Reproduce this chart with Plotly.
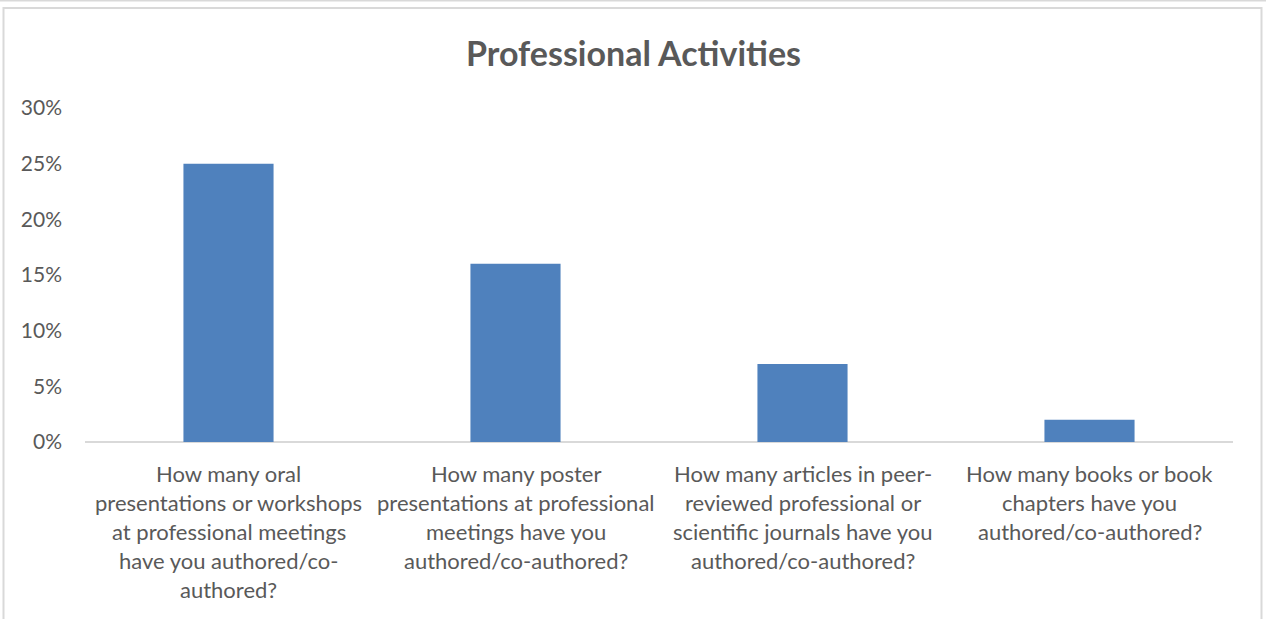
import plotly.graph_objects as go

# Survey categories (label lines) and share of respondents
categories = [
    "How many oral<br>presentations or workshops<br>at professional meetings<br>have you authored/co-<br>authored?",
    "How many poster<br>presentations at professional<br>meetings have you<br>authored/co-authored?",
    "How many articles in peer-<br>reviewed professional or<br>scientific journals have you<br>authored/co-authored?",
    "How many books or book<br>chapters have you<br>authored/co-authored?",
]
shares = [0.25, 0.16, 0.07, 0.02]
y_ticks = [0, 0.05, 0.10, 0.15, 0.20, 0.25, 0.30]
y_tick_labels = ["0%", "5%", "10%", "15%", "20%", "25%", "30%"]
title_text = "Professional Activities"

W, H = 1266, 619
L, R, T, B = 85, 33, 108, 177
pw, ph = W - L - R, H - T - B

FONT = "Lato, Calibri, Carlito, sans-serif"
TEXT = "#595959"
BORDER = "#D9D9D9"

x_keys = list(range(len(categories)))

fig = go.Figure(
    go.Bar(
        x=x_keys,
        y=shares,
        marker=dict(color="#4F81BD", line=dict(width=0)),
        width=0.314,
        hoverinfo="skip",
    )
)

# Category labels as individual lines for wider line spacing
annotations = []
line_gap = 29
for xi, label in zip(x_keys, categories):
    for k, line in enumerate(label.split("<br>")):
        annotations.append(
            dict(
                x=xi, y=0, xref="x", yref="y",
                text=line, showarrow=False,
                xanchor="center", yanchor="middle",
                yshift=-31 - k * line_gap,
                font=dict(family=FONT, size=22, color=TEXT),
            )
        )

annotations.append(
    dict(
        x=(W / 2 - L) / pw, y=(H - 53 - B) / ph, xref="paper", yref="paper",
        text="<b>" + title_text + "</b>", showarrow=False,
        xanchor="center", yanchor="middle",
        font=dict(family=FONT, size=34, color=TEXT),
    )
)


def px_x(v):
    return (v - L) / pw


def px_y(v):
    return (H - B - v) / ph


shapes = [
    # outer chart frame
    dict(type="rect", xref="paper", yref="paper",
         x0=px_x(3.5), x1=px_x(1261.5), y0=px_y(H + 10), y1=px_y(8),
         line=dict(color=BORDER, width=2), fillcolor="rgba(0,0,0,0)", layer="below"),
    # thin band along the top edge
    dict(type="line", xref="paper", yref="paper",
         x0=px_x(0), x1=px_x(W), y0=px_y(0.5), y1=px_y(0.5),
         line=dict(color=BORDER, width=2)),
]

fig.update_layout(
    width=W, height=H,
    margin=dict(l=L, r=R, t=T, b=B, autoexpand=False),
    paper_bgcolor="white", plot_bgcolor="white",
    showlegend=False,
    bargap=0.686,
    annotations=annotations,
    shapes=shapes,
    xaxis=dict(
        range=[-0.5, len(categories) - 0.5],
        showticklabels=False, ticks="",
        showgrid=False, zeroline=False,
        showline=False, fixedrange=True,
    ),
    yaxis=dict(
        range=[0, 0.30],
        tickvals=y_ticks, ticktext=y_tick_labels,
        tickfont=dict(family=FONT, size=21, color=TEXT),
        ticks="", ticklen=0,
        showgrid=False, showline=False,
        zeroline=True, zerolinecolor=BORDER, zerolinewidth=2,
        fixedrange=True,
    ),
)

# ticklabel gap: labels end near x=62
fig.update_yaxes(ticklabelstandoff=22)

fig.write_html("out.html")
